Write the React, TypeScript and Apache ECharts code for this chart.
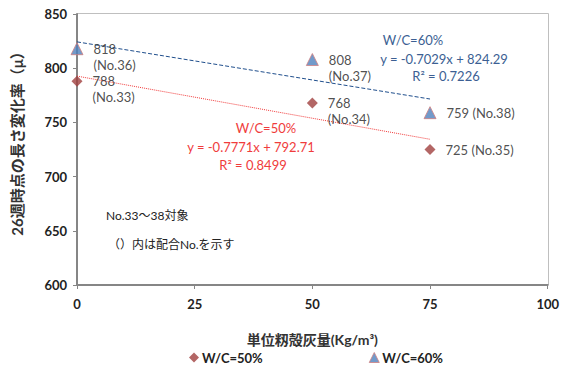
import React, { useEffect, useRef } from "react";
import * as echarts from "echarts";

const FONT = "Lato, 'Noto Sans CJK JP', sans-serif";

const ashAmount50 = [0, 50, 75];
const change50 = [788, 768, 725];
const mixNo50 = ["No.33", "No.34", "No.35"];
const ashAmount60 = [0, 50, 75];
const change60 = [818, 808, 759];
const mixNo60 = ["No.36", "No.37", "No.38"];

// linear trend fits (slope, intercept, R²)
const fit50 = { m: -0.7771, b: 792.71, r2: 0.8499 };
const fit60 = { m: -0.7029, b: 824.29, r2: 0.7226 };
const trendRange = [0, 75];

const RED = "#A0403E";
const BLUE = "#4F81BD";

function pointData(xs: number[], ys: number[], nos: string[]) {
  return xs.map((x, i) => ({
    value: [x, ys[i]],
    label: {
      formatter: i === 2 ? `${ys[i]} (${nos[i]})` : `${ys[i]}\n(${nos[i]})`,
      offset: i === 2 ? [4, 0] : [4, 8],
    },
  }));
}

export default function App() {
  const ref = useRef<HTMLDivElement>(null);
  useEffect(() => {
    const chart = echarts.init(ref.current!, null, { renderer: "svg" });
    chart.setOption({
      animation: false,
      backgroundColor: "#fff",
      textStyle: { fontFamily: FONT },
      grid: { left: 77, right: 14, top: 14, bottom: 84 },
      xAxis: {
        type: "value",
        min: 0,
        max: 100,
        interval: 25,
        name: "単位籾殻灰量(Kg/m³)",
        nameLocation: "middle",
        nameGap: 47,
        nameTextStyle: { fontSize: 14, fontWeight: "bold", color: "#333" },
        axisLine: { lineStyle: { color: "#868686", width: 2 } },
        axisTick: { show: true, lineStyle: { color: "#868686" }, length: 4 },
        axisLabel: { fontSize: 13, fontWeight: "bold", color: "#222", margin: 12 },
        splitLine: { show: false },
      },
      yAxis: {
        type: "value",
        min: 600,
        max: 850,
        interval: 50,
        axisLine: { lineStyle: { color: "#868686", width: 2 } },
        axisTick: { show: true, lineStyle: { color: "#868686" }, length: 4 },
        axisLabel: { fontSize: 13, fontWeight: "bold", color: "#222", margin: 10 },
        splitLine: { show: false },
      },
      graphic: [
        { type: "line", shape: { x1: 77, y1: 13.5, x2: 548.5, y2: 13.5 }, style: { stroke: "#BFBFBF", lineWidth: 1 } },
        { type: "line", shape: { x1: 548.5, y1: 13.5, x2: 548.5, y2: 285 }, style: { stroke: "#BFBFBF", lineWidth: 1 } },
        { type: "text", x: 17, y: 140, rotation: Math.PI / 2, style: { text: "26週時点の長さ変化率（μ）", fill: "#333", font: `bold 15px ${FONT}`, textAlign: "center", textVerticalAlign: "middle" } },
        { type: "text", x: 413, y: 40, style: { text: "W/C=60%", fill: "#3C5F93", font: `13px ${FONT}`, textAlign: "center", textVerticalAlign: "middle" } },
        { type: "text", x: 444, y: 59, style: { text: `y = ${fit60.m}x + ${fit60.b}`, fill: "#3C5F93", font: `13px ${FONT}`, textAlign: "center", textVerticalAlign: "middle" } },
        { type: "text", x: 446, y: 76, style: { text: `R² = ${fit60.r2}`, fill: "#3C5F93", font: `13px ${FONT}`, textAlign: "center", textVerticalAlign: "middle" } },
        { type: "text", x: 266, y: 128, style: { text: "W/C=50%", fill: "#F03C3C", font: `13px ${FONT}`, textAlign: "center", textVerticalAlign: "middle" } },
        { type: "text", x: 251, y: 147, style: { text: `y = ${fit50.m}x + ${fit50.b}`, fill: "#F03C3C", font: `13px ${FONT}`, textAlign: "center", textVerticalAlign: "middle" } },
        { type: "text", x: 253, y: 165, style: { text: `R² = ${fit50.r2}`, fill: "#F03C3C", font: `13px ${FONT}`, textAlign: "center", textVerticalAlign: "middle" } },
        { type: "text", x: 106, y: 215, style: { text: "No.33〜38対象", fill: "#222", font: `12px ${FONT}`, textVerticalAlign: "middle" } },
        { type: "text", x: 108, y: 244, style: { text: "（）内は配合No.を示す", fill: "#222", font: `12px ${FONT}`, textVerticalAlign: "middle" } },
      ],
      legend: {
        top: 346,
        left: 184,
        itemGap: 106,
        itemWidth: 10,
        itemHeight: 10,
        textStyle: { fontSize: 13, fontWeight: "bold", color: "#222", padding: [0, 0, 0, -2] },
        data: [
          { name: "W/C=50%", icon: "diamond", itemStyle: { color: RED } },
          { name: "W/C=60%", icon: "triangle", itemStyle: { color: BLUE, borderColor: "#D08080", borderWidth: 1 } },
        ],
      },
      series: [
        {
          type: "line",
          data: trendRange.map((x) => [x, fit60.m * x + fit60.b]),
          symbol: "none",
          silent: true,
          lineStyle: { color: "#1F4E8C", width: 1, type: [4, 2] },
          z: 1,
        },
        {
          type: "line",
          data: trendRange.map((x) => [x, fit50.m * x + fit50.b]),
          symbol: "none",
          silent: true,
          lineStyle: { color: "#F03C3C", width: 1, type: [1, 1] },
          z: 1,
        },
        {
          name: "W/C=50%",
          type: "scatter",
          symbol: "diamond",
          symbolSize: 11,
          itemStyle: { color: RED },
          data: pointData(ashAmount50, change50, mixNo50),
          label: { show: true, position: "right", distance: 6, color: "#222", fontSize: 13, lineHeight: 16, align: "left" },
          z: 3,
        },
        {
          name: "W/C=60%",
          type: "scatter",
          symbol: "triangle",
          symbolSize: 12,
          itemStyle: { color: BLUE, borderColor: "#D08080", borderWidth: 1 },
          data: pointData(ashAmount60, change60, mixNo60),
          label: { show: true, position: "right", distance: 6, color: "#222", fontSize: 13, lineHeight: 16, align: "left" },
          z: 3,
        },
      ],
    });
    return () => chart.dispose();
  }, []);
  return <div ref={ref} style={{ width: 562, height: 369, position: "absolute", left: 0, top: 0 }} />;
}
